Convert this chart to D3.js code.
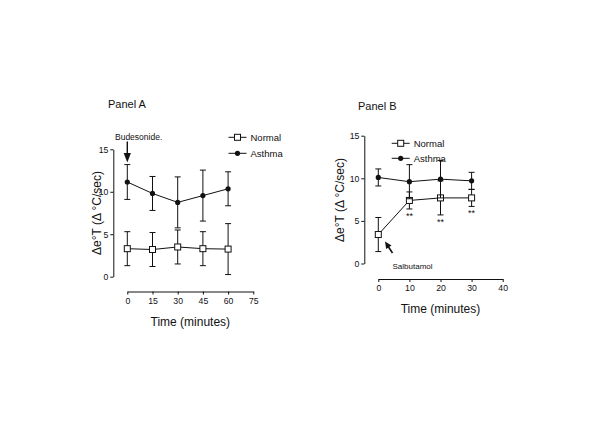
<!DOCTYPE html>
<html><head><meta charset="utf-8">
<script src="https://cdn.jsdelivr.net/npm/d3@7"></script>
<style>
body{margin:0;background:#fff;}
svg{display:block;font-family:"Liberation Sans",Arial,sans-serif;}
</style></head><body>
<svg id="c" width="600" height="424"></svg>
<script>
const timeA = [0, 15, 30, 45, 60];
const normalA = [3.3, 3.2, 3.5, 3.3, 3.25];
const normalAErr = [2, 2, 2, 2, 3];
const asthmaA = [11.15, 9.8, 8.75, 9.55, 10.35];
const asthmaAErr = [2.05, 2, 3, 3, 2];
const xTicksA = [0, 15, 30, 45, 60, 75];

const timeB = [0, 10, 20, 30];
const normalB = [3.4, 7.4, 7.7, 7.7];
const normalBErr = [2, 1, 2, 1];
const asthmaB = [10.1, 9.6, 9.9, 9.7];
const asthmaBErr = [1, 2, 2.2, 1];
const xTicksB = [0, 10, 20, 30, 40];
const yTicks = [0, 5, 10, 15];
const sigB = ["", "**", "**", "**"];

const svg = d3.select("#c");
const ink = "#111";

function panel(o) {
  const g = svg.append("g");
  const x = d3.scaleLinear().domain(o.xDom).range(o.xRange);
  const y = d3.scaleLinear().domain([0, 15]).range(o.yRange);
  const ya = g.append("g").attr("transform", `translate(${o.yAxisX},0)`)
    .call(d3.axisLeft(y).tickValues(yTicks).tickSize(3).tickSizeOuter(0).tickPadding(2));
  const xa = g.append("g").attr("transform", `translate(0,${o.xAxisY})`)
    .call(d3.axisBottom(x).tickValues(o.xTicks).tickSize(3).tickSizeOuter(0).tickPadding(3));
  [ya, xa].forEach(a => {
    a.select(".domain").attr("stroke", ink);
    a.selectAll(".tick line").attr("stroke", ink);
    a.selectAll("text").attr("fill", ink).style("font-size", "8.7px").style("font-family", "'Liberation Sans',Arial,sans-serif");
  });
  g.append("text").attr("x", o.titleX).attr("y", o.titleY).text(o.title)
    .style("font-size", "11px").attr("fill", ink);
  g.append("text").attr("x", (o.xRange[0] + o.xRange[1]) / 2).attr("y", o.xAxisY + 34)
    .attr("text-anchor", "middle").text("Time (minutes)").style("font-size", "12px").attr("fill", ink);
  g.append("text").attr("transform", `translate(${o.ytX},${o.ytY}) rotate(-90)`)
    .attr("text-anchor", "middle").text("Δe°T (Δ °C/sec)").style("font-size", "12px").attr("fill", ink);

  function series(t, v, e, type) {
    const sg = g.append("g");
    t.forEach((ti, i) => {
      const cx = x(ti), y1 = y(v[i] + e[i]), y0 = y(v[i] - e[i]);
      sg.append("line").attr("x1", cx).attr("x2", cx).attr("y1", y1).attr("y2", y0).attr("stroke", ink).attr("stroke-width", 1);
      [y1, y0].forEach(yy => sg.append("line").attr("x1", cx - 3).attr("x2", cx + 3).attr("y1", yy).attr("y2", yy).attr("stroke", ink).attr("stroke-width", 1));
    });
    sg.append("path").datum(t.map((ti, i) => [ti, v[i]]))
      .attr("d", d3.line().x(d => x(d[0])).y(d => y(d[1])))
      .attr("fill", "none").attr("stroke", ink).attr("stroke-width", 1);
    t.forEach((ti, i) => {
      if (type === "sq") sg.append("rect").attr("x", x(ti) - 3).attr("y", y(v[i]) - 3).attr("width", 6).attr("height", 6)
        .attr("fill", "#fff").attr("stroke", ink).attr("stroke-width", 1);
      else sg.append("circle").attr("cx", x(ti)).attr("cy", y(v[i])).attr("r", 2.6).attr("fill", ink);
    });
  }
  series(o.t, o.normal, o.normalErr, "sq");
  series(o.t, o.asthma, o.asthmaErr, "dot");

  [["Normal", "sq"], ["Asthma", "dot"]].forEach((d, i) => {
    const ly = o.legY + i * o.legGap;
    g.append("line").attr("x1", o.legX).attr("x2", o.legX + 18).attr("y1", ly).attr("y2", ly).attr("stroke", ink);
    if (d[1] === "sq") g.append("rect").attr("x", o.legX + 6).attr("y", ly - 3).attr("width", 6).attr("height", 6).attr("fill", "#fff").attr("stroke", ink);
    else g.append("circle").attr("cx", o.legX + 9).attr("cy", ly).attr("r", 2.6).attr("fill", ink);
    g.append("text").attr("x", o.legX + 22).attr("y", ly).attr("dy", "0.35em").text(d[0]).style("font-size", "9.5px").attr("fill", ink);
  });
  return {g, x, y};
}

const A = panel({
  title: "Panel A", titleX: 108, titleY: 108,
  xDom: [0, 75], xRange: [127.3, 253.3], yRange: [276.7, 149.3],
  yAxisX: 113.3, xAxisY: 291.5, xTicks: xTicksA,
  ytX: 101, ytY: 213,
  t: timeA, normal: normalA, normalErr: normalAErr, asthma: asthmaA, asthmaErr: asthmaAErr,
  legX: 228.5, legY: 137.3, legGap: 16
});
A.g.append("text").attr("x", 115).attr("y", 137).attr("dy", "0.35em").text("Budesonide.")
  .style("font-size", "8.5px").attr("fill", ink);
const ax = A.x(0);
A.g.append("line").attr("x1", ax).attr("x2", ax).attr("y1", 141.5).attr("y2", 154).attr("stroke", ink).attr("stroke-width", 1.4);
A.g.append("path").attr("d", `M${ax - 3.6},153 L${ax + 3.6},153 L${ax},162.6 Z`).attr("fill", ink);

const B = panel({
  title: "Panel B", titleX: 358, titleY: 109.5,
  xDom: [0, 40], xRange: [378.3, 502.7], yRange: [263.5, 135.7],
  yAxisX: 364.3, xAxisY: 279, xTicks: xTicksB,
  ytX: 344, ytY: 200,
  t: timeB, normal: normalB, normalErr: normalBErr, asthma: asthmaB, asthmaErr: asthmaBErr,
  legX: 391.7, legY: 143.3, legGap: 15
});
timeB.forEach((t, i) => {
  if (!sigB[i]) return;
  B.g.append("text").attr("x", B.x(t)).attr("y", B.y(normalB[i] - normalBErr[i]) + 10)
    .attr("text-anchor", "middle").text(sigB[i]).style("font-size", "9px").attr("fill", ink);
});
B.g.append("text").attr("x", 392.5).attr("y", 266).attr("dy", "0.35em").text("Salbutamol")
  .style("font-size", "8px").attr("fill", ink);
B.g.append("line").attr("x1", 392.5).attr("y1", 253).attr("x2", 387.5).attr("y2", 245.5).attr("stroke", ink).attr("stroke-width", 1.6);
(function(){
  const tx = 385, ty = 241.5, ang = Math.atan2(253 - ty, 392.5 - tx);
  const L = 7, W = 3.2;
  const bx = tx + L * Math.cos(ang), by = ty + L * Math.sin(ang);
  const px = -Math.sin(ang) * W, py = Math.cos(ang) * W;
  B.g.append("path").attr("d", `M${tx},${ty} L${bx + px},${by + py} L${bx - px},${by - py} Z`).attr("fill", ink);
})();
</script>
</body></html>
